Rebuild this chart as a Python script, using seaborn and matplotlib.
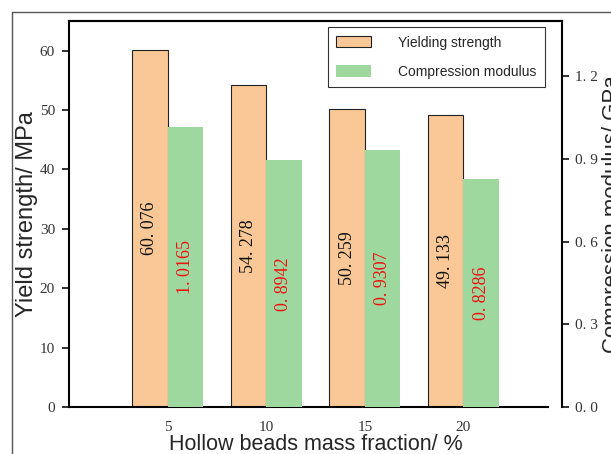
import matplotlib
matplotlib.use("Agg")
import matplotlib.pyplot as plt
from matplotlib.lines import Line2D
from matplotlib.ticker import FixedLocator, FuncFormatter
import seaborn as sns
import pandas as pd

# Data
mass_fraction = [5, 10, 15, 20]
yield_strength = [60.076, 54.278, 50.259, 49.133]          # MPa
compression_modulus = [1.0165, 0.8942, 0.9307, 0.8286]     # GPa
series_names = ["Yielding strength", "Compression modulus"]

orange = "#F9C896"
green = "#9ED89E"
bar_w = 1.8  # bar width in x units

sns.set_theme(style="white")
plt.rcParams["font.family"] = ["Liberation Sans", "DejaVu Sans"]

fig = plt.figure(figsize=(6.11, 4.54), dpi=100)
ax = fig.add_axes([69 / 611, 1 - 407 / 454, (562 - 69) / 611, (407 - 21) / 454])
ax2 = ax.twinx()

df = pd.DataFrame({
    "x": mass_fraction,
    "ys": yield_strength,
    "cm": compression_modulus,
})
df["x_left"] = df["x"] - bar_w / 2
df["x_right"] = df["x"] + bar_w / 2

rel_w = bar_w / 5.0
sns.barplot(data=df, x="x_left", y="ys", native_scale=True, width=rel_w,
            color=orange, saturation=1, edgecolor="#222222", linewidth=0.8,
            ax=ax, zorder=2)
sns.barplot(data=df, x="x_right", y="cm", native_scale=True, width=rel_w,
            color=green, saturation=1, edgecolor="none", linewidth=0,
            ax=ax2, zorder=2)

ax.set_xlim(0, 25)
ax.set_ylim(0, 65)
ax2.set_ylim(0, 1.4)

# Value labels, placed at half bar height
serif = ["Liberation Serif", "DejaVu Serif"]
def fmt_val(v, nd):
    return f"{v:.{nd}f}".replace(".", ". ")

for x, v in zip(df["x_left"], df["ys"]):
    ax.text(x, v / 2, fmt_val(v, 3), rotation=90, ha="center", va="center",
            fontsize=13, family=serif, color="#111111", zorder=5)
for x, v in zip(df["x_right"], df["cm"]):
    ax2.text(x, v / 2, fmt_val(v, 4), rotation=90, ha="center", va="center",
             fontsize=13, family=serif, color="#EE1111", zorder=5)

# Ticks
ax.xaxis.set_major_locator(FixedLocator(mass_fraction))
ax.set_xticklabels([str(v) for v in mass_fraction])
ax.yaxis.set_major_locator(FixedLocator([0, 10, 20, 30, 40, 50, 60]))
ax2.yaxis.set_major_locator(FixedLocator([0.0, 0.3, 0.6, 0.9, 1.2]))
ax2.yaxis.set_major_formatter(FuncFormatter(lambda v, p: fmt_val(v, 1)))

for lab in ax.get_xticklabels() + ax.get_yticklabels() + ax2.get_yticklabels():
    lab.set_family(serif)
    lab.set_fontsize(11)
    lab.set_color("#333333")

ax.tick_params(axis="x", direction="in", length=7, width=1.2, pad=10,
               bottom=True, top=False, color="#111111")
ax.tick_params(axis="y", direction="out", length=5, width=1.2, pad=5,
               left=True, color="#111111")
ax2.tick_params(axis="y", direction="out", length=5, width=1.2, pad=4,
                right=True, color="#111111")

ax.set_xlabel("Hollow beads mass fraction/ %", fontsize=15.5, labelpad=0)
ax.set_ylabel("Yield strength/ MPa", fontsize=17, labelpad=1)
ax2.set_ylabel("Compression modulus/ GPa", fontsize=16, labelpad=3)

# Spines
for a in (ax, ax2):
    for s in a.spines.values():
        s.set_color("#000000")
        s.set_linewidth(1.5)
ax.spines["bottom"].set_bounds(0, 24.3)
ax2.spines["bottom"].set_visible(False)
ax.spines["right"].set_visible(False)
ax2.spines["left"].set_visible(False)

# Legend
for a in (ax, ax2):
    if a.get_legend() is not None:
        a.get_legend().remove()
handles = [ax.containers[0].patches[0], ax2.containers[0].patches[0]]
leg = ax2.legend(handles, series_names, loc="upper right",
                 bbox_to_anchor=(0.9655, 0.984), borderaxespad=0,
                 fancybox=False, frameon=True, fontsize=10,
                 handlelength=2.45, handleheight=0.9, handletextpad=2.0,
                 labelspacing=1.1, borderpad=0.6)
leg.get_frame().set_edgecolor("#000000")
leg.get_frame().set_linewidth(0.8)

# Outer frame lines
fig.add_artist(Line2D([12 / 611, 1], [1 - 12 / 454, 1 - 12 / 454],
                      color="#555555", lw=1.0))
fig.add_artist(Line2D([12 / 611, 12 / 611], [0, 1 - 12 / 454],
                      color="#555555", lw=1.0))

fig.savefig("out.png", dpi=100)
